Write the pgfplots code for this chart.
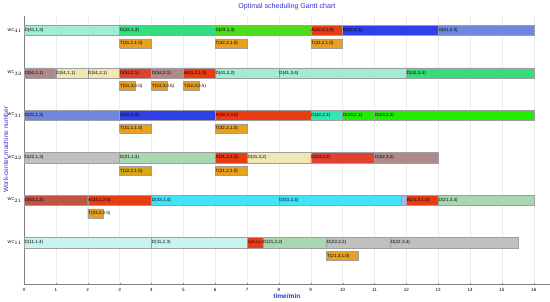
\documentclass[border=0pt]{standalone}
\usepackage{pgfplots}
\pgfplotsset{compat=1.18}
\usepackage{fontspec}
\setmainfont{Liberation Sans}
\definecolor{aqua}{HTML}{A0ECD6}
\definecolor{gr42}{HTML}{34DE7E}
\definecolor{gr43}{HTML}{4CDC1C}
\definecolor{lime}{HTML}{22EC00}
\definecolor{redA}{HTML}{E83C12}
\definecolor{blue32}{HTML}{2E40E8}
\definecolor{blue31}{HTML}{6E88E0}
\definecolor{gb52}{HTML}{B08A8A}
\definecolor{yel51}{HTML}{F0E8B2}
\definecolor{red53}{HTML}{E04232}
\definecolor{aq42}{HTML}{30E8B0}
\definecolor{grey22}{HTML}{C0C0C0}
\definecolor{lg21}{HTML}{A8D8B2}
\definecolor{br53}{HTML}{C25242}
\definecolor{cyan33}{HTML}{40E4F8}
\definecolor{lc11}{HTML}{C8F4F0}
\definecolor{torange}{HTML}{E8A020}
\definecolor{tgold}{HTML}{D8A818}
\definecolor{lav}{HTML}{B8B0E8}
\definecolor{titleblue}{HTML}{3030D8}
\newcommand{\lblfont}{\fontsize{4.5}{5}\selectfont}
% x0 x1 row color label
\newcommand{\gbar}[5]{%
  \pgfmathsetmacro{\lo}{#3-0.12}\pgfmathsetmacro{\hi}{#3+0.12}%
  \edef\tmp{\noexpand\addplot[fill=#4, draw=gray!75, line width=0.4pt] coordinates {(#1,\lo) (#2,\lo) (#2,\hi) (#1,\hi) (#1,\lo)};}\tmp
  \node[anchor=west, inner sep=0.3pt, font=\lblfont] at (axis cs:#1,#3) {#5};
}
\newcommand{\tbar}[5]{%
  \pgfmathsetmacro{\lo}{#3-0.42}\pgfmathsetmacro{\hi}{#3-0.20}\pgfmathsetmacro{\md}{#3-0.31}%
  \edef\tmp{\noexpand\addplot[fill=#4, draw=gray!75, line width=0.4pt] coordinates {(#1,\lo) (#2,\lo) (#2,\hi) (#1,\hi) (#1,\lo)};
    \noexpand\node[anchor=west, inner sep=0.3pt, font=\noexpand\lblfont] at (axis cs:#1,\md) {#5};}\tmp
}
\begin{document}
\begin{tikzpicture}
\begin{axis}[
  scale only axis, width=521pt, height=266pt,
  xmin=0, xmax=16.5, ymin=0.03, ymax=6.35,
  axis lines=left, axis line style={gray, line width=0.6pt, -},
  xtick={0,...,16}, ytick={1,...,6},
  yticklabels={WC$_{11}$,WC$_{21}$,WC$_{22}$,WC$_{31}$,WC$_{32}$,WC$_{41}$},
  tick style={gray}, major tick length=2pt,
  ytick style={draw=none},
  tick label style={font=\fontsize{4.5}{5}\selectfont},
  yticklabel style={font=\fontsize{4}{5}\selectfont, inner sep=1pt},
  /pgf/number format/assume math mode=true,
  xmajorgrids, grid style={gray!15, line width=0.4pt},
  title={Optimal scheduling Gantt chart},
  title style={font=\fontsize{7}{8}\selectfont, text=titleblue, yshift=-4pt},
  xlabel={time/min}, xlabel style={font=\bfseries\fontsize{6.5}{7}\selectfont, text=titleblue, yshift=5pt},
  ylabel={Work-center machine number}, ylabel style={font=\fontsize{6.5}{7}\selectfont, text=titleblue, yshift=-5pt},
  clip=false,
]
% WC41
\gbar{0}{3}{6}{aqua}{D(41,1,3)}
\gbar{3}{6}{6}{gr42}{D(42,1,3)}
\gbar{6}{9}{6}{gr43}{D(43,1,3)}
\gbar{9}{10}{6}{redA}{A(42,2,1,0)}
\gbar{10}{13}{6}{blue32}{D(32,2,3)}
\gbar{13}{16}{6}{blue31}{D(31,2,3)}
\tbar{3}{4}{6}{torange}{T(41,2,1.0)}
\tbar{6}{7}{6}{torange}{T(42,2,1.0)}
\tbar{9}{10}{6}{torange}{T(43,2,1.0)}
% WC32
\gbar{0}{1}{5}{gb52}{D(52,1,1)}
\gbar{1}{2}{5}{yel51}{D(51,1,1)}
\gbar{2}{3}{5}{yel51}{D(51,2,1)}
\gbar{3}{4}{5}{red53}{D(53,2,1)}
\gbar{4}{5}{5}{gb52}{D(52,2,1)}
\gbar{5}{6}{5}{redA}{A(41,2,1,0)}
\gbar{6}{8}{5}{aqua}{D(41,2,2)}
\gbar{8}{12}{5}{aqua}{D(41,3,4)}
\gbar{12}{16}{5}{gr42}{D(42,3,4)}
\tbar{3}{3.5}{5}{torange}{T(51,3,0.5)}
\tbar{4}{4.5}{5}{torange}{T(53,3,0.5)}
\tbar{5}{5.5}{5}{torange}{T(52,3,0.5)}
% WC31
\gbar{0}{3}{4}{blue31}{D(31,1,3)}
\gbar{3}{6}{4}{blue32}{D(32,1,3)}
\gbar{6}{9}{4}{redA}{A(32,2,3,0)}
\gbar{9}{10}{4}{aq42}{D(42,2,1)}
\gbar{10}{11}{4}{lime}{D(43,2,1)}
\gbar{11}{16}{4}{lime}{D(43,3,3)}
\tbar{3}{4}{4}{torange}{T(31,2,1.0)}
\tbar{6}{7}{4}{torange}{T(32,2,1.0)}
% WC22
\gbar{0}{3}{3}{grey22}{D(22,1,3)}
\gbar{3}{6}{3}{lg21}{D(21,1,3)}
\gbar{6}{7}{3}{redA}{A(31,2,1,0)}
\gbar{7}{9}{3}{yel51}{D(31,3,2)}
\gbar{9}{11}{3}{red53}{D(53,3,2)}
\gbar{11}{13}{3}{gb52}{D(52,3,2)}
\tbar{3}{4}{3}{tgold}{T(22,2,1.0)}
\tbar{6}{7}{3}{torange}{T(21,2,1.0)}
% WC21
\gbar{0}{2}{2}{br53}{D(53,1,2)}
\gbar{2}{4}{2}{redA}{A(33,1,2,0)}
\gbar{4}{8}{2}{cyan33}{D(33,1,4)}
\gbar{8}{11.85}{2}{cyan33}{D(33,2,4)}
\gbar{11.85}{12}{2}{lav}{}
\gbar{12}{13}{2}{redA}{A(21,3,1,0)}
\gbar{13}{16}{2}{lg21}{D(21,3,3)}
\tbar{2}{2.5}{2}{torange}{T(33,2,0.5)}
% WC11
\gbar{0}{4}{1}{lc11}{D(11,1,4)}
\gbar{4}{7}{1}{lc11}{D(11,2,3)}
\gbar{7}{7.5}{1}{redA}{\fontsize{3.5}{4}\selectfont A(22,2,1,0)}
\gbar{7.5}{9.5}{1}{lg21}{D(21,2,2)}
\gbar{9.5}{11.5}{1}{grey22}{D(22,2,2)}
\gbar{11.5}{15.5}{1}{grey22}{D(22,3,4)}
\tbar{9.5}{10.5}{1}{torange}{T(21,3,1.0)}
\end{axis}
\end{tikzpicture}
\end{document}
